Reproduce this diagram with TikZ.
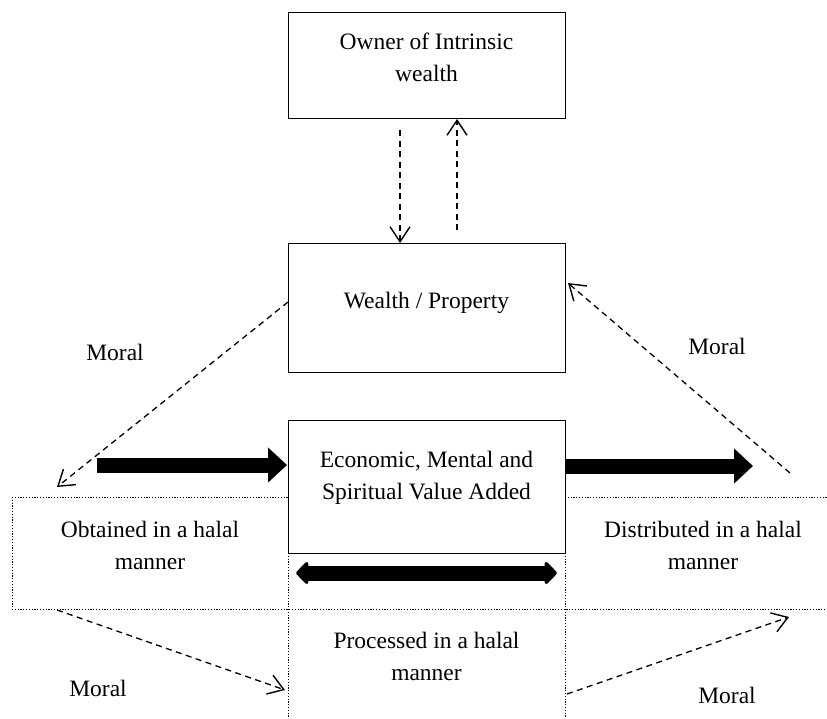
\documentclass[tikz,border=0pt]{standalone}
\usepackage{fontspec}
\setmainfont{Liberation Serif}
\usetikzlibrary{arrows.meta}
\begin{document}
\begin{tikzpicture}[x=1pt,y=-1pt,
  box/.style={draw, line width=0.9pt, minimum width=277pt, inner sep=0pt},
  txt/.style={align=center, font=\fontsize{23.5}{32}\selectfont, inner sep=0pt},
  dasharrow/.style={line width=1.3pt, dash pattern=on 6pt off 4.5pt, -{Straight Barb[length=15pt,width=20pt,line width=1.4pt]}},
  dotline/.style={line width=1pt, black, dash pattern=on 1.2pt off 1.6pt},
  boldarrow/.style={line width=15pt, -{Triangle[length=19pt,width=34pt]}},
  dblarrow/.style={line width=15pt, {Triangle[length=13pt,width=26pt,round]}-{Triangle[length=13pt,width=26pt,round]}}
]
\useasboundingbox (0,0) rectangle (827,718);
% boxes
\node[box, minimum height=106pt] (owner) at (426.5,65) {};
\node[box, minimum height=129pt] (wealth) at (426.5,307.5) {};
\node[box, minimum height=133pt] (econ) at (426.5,486.5) {};
% texts
\node[txt] (ownertxt) at (426.5,57) {Owner of Intrinsic\\wealth};
\node[txt] (wealthtxt) at (426.5,303) {Wealth / Property};
\node[txt] (econtxt) at (426.5,478) {Economic, Mental and\\Spiritual Value Added};
\node[txt] (obtained) at (150,545) {Obtained in a halal\\manner};
\node[txt] (distributed) at (703,545) {Distributed in a halal\\manner};
\node[txt] (processed) at (426.5,656) {Processed in a halal\\manner};
\node[txt] (moral1) at (115,352) {Moral};
\node[txt] (moral2) at (717,346) {Moral};
\node[txt] (moral3) at (98,688) {Moral};
\node[txt] (moral4) at (727,695) {Moral};
% dotted table lines
\draw[dotline] (12,497) -- (288,497);
\draw[dotline] (565,497) -- (827,497);
\draw[dotline] (12,609) -- (827,609);
\draw[dotline] (12,497) -- (12,609);
\draw[dotline] (288,553) -- (288,718);
\draw[dotline] (565,553) -- (565,718);
% coordinates
\coordinate (a1s) at (400,130);
\coordinate (a1e) at (400,243);
\coordinate (a2s) at (457,230);
\coordinate (a2e) at (457,119);
\coordinate (l1s) at (288,302);
\coordinate (l1e) at (57,487);
\coordinate (r1s) at (790,473);
\coordinate (r1e) at (568,283);
\coordinate (bl s) at (57,610);
\coordinate (bl e) at (285,690);
\coordinate (br s) at (567,694);
\coordinate (br e) at (789,617);
\coordinate (bal s) at (97,465);
\coordinate (bal e) at (287,465);
\coordinate (bar s) at (565,466);
\coordinate (bar e) at (753,466);
\coordinate (dbl s) at (296,573);
\coordinate (dbl e) at (557,573);
% dashed arrows
\draw[dasharrow] (a1s) -- (a1e);
\draw[dasharrow] (a2s) -- (a2e);
\draw[dasharrow] (l1s) -- (l1e);
\draw[dasharrow] (r1s) -- (r1e);
\draw[dasharrow] (bl s) -- (bl e);
\draw[dasharrow] (br s) -- (br e);
% bold arrows
\draw[boldarrow] (bal s) -- (bal e);
\draw[boldarrow] (bar s) -- (bar e);
\draw[dblarrow] (dbl s) -- (dbl e);
\end{tikzpicture}
\end{document}
